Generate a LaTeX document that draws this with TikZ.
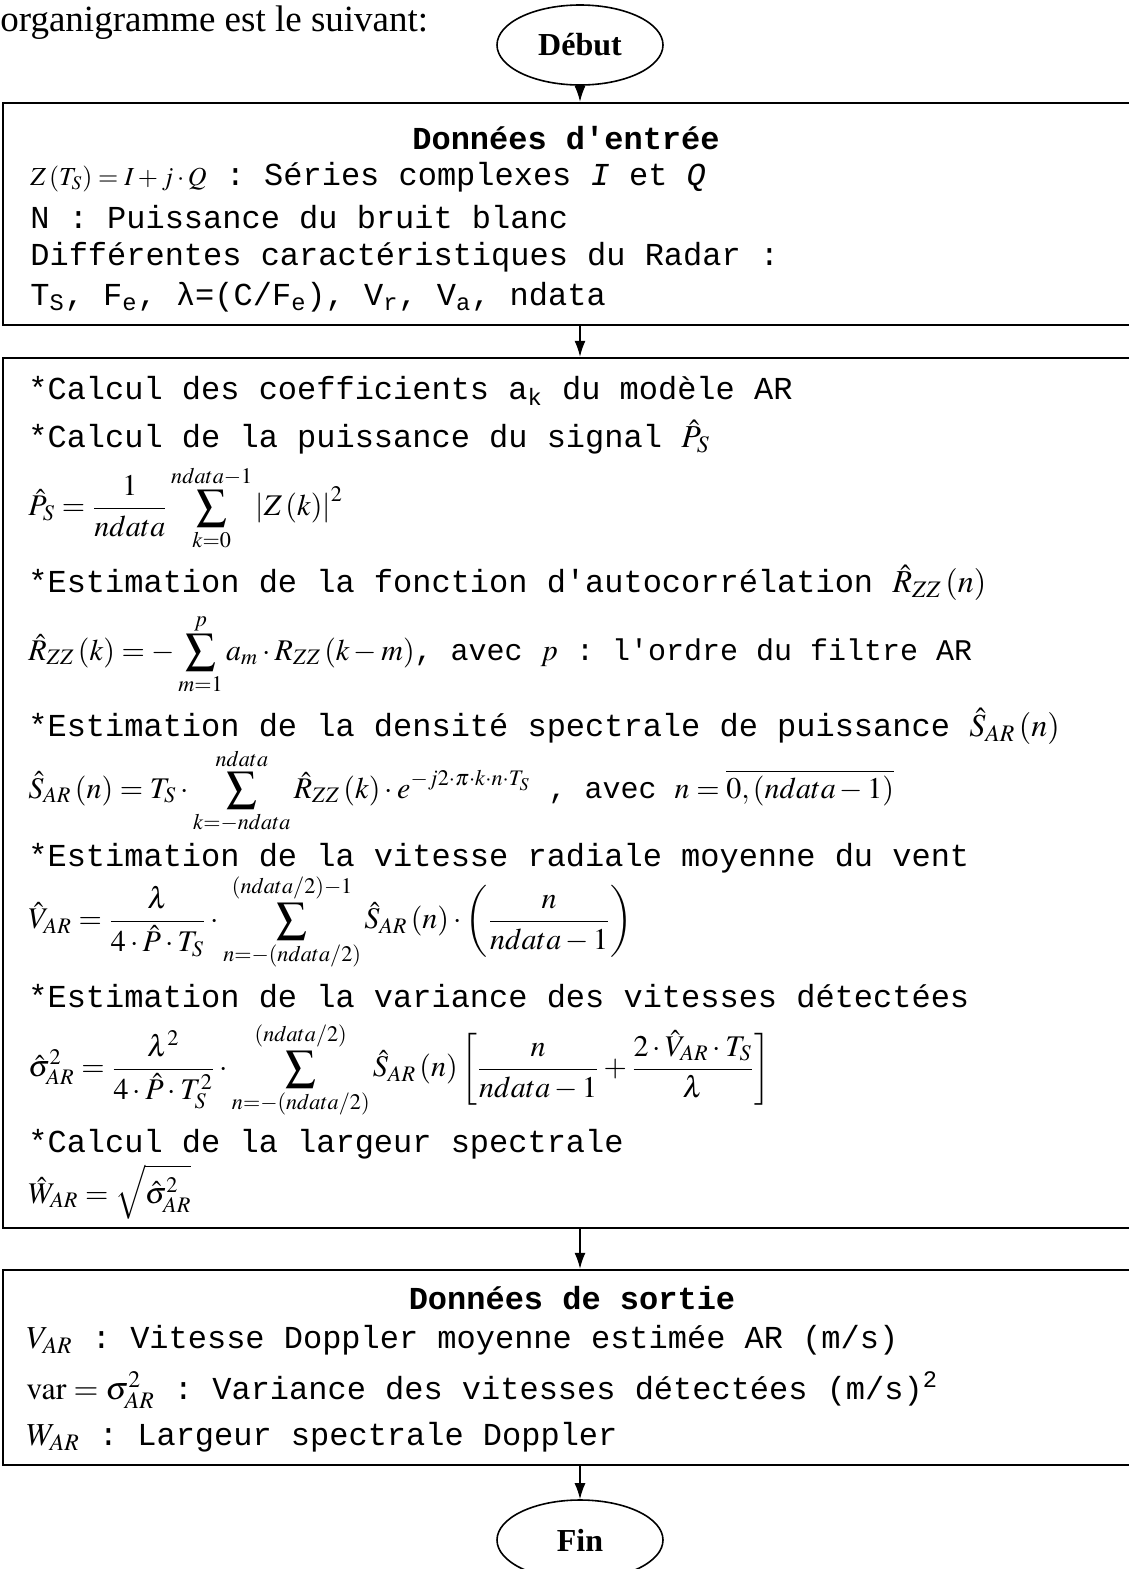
\documentclass[tikz,border=0pt]{standalone}
\usepackage{mathptmx}
\usepackage[no-math]{fontspec}
\setmainfont{Liberation Serif}
\setmonofont{Liberation Mono}
\usetikzlibrary{shapes.geometric,arrows.meta,positioning}
\tikzset{
  box/.style={draw, line width=1.2pt, minimum width=577pt, inner sep=0pt},
  term/.style={draw, ellipse, line width=.8pt, minimum width=83pt, minimum height=40pt,
    font=\bfseries\fontsize{16}{18}\selectfont},
  txt/.style={anchor=west, inner sep=0pt, font=\ttfamily\fontsize{16}{19}\selectfont},
  eq/.style={anchor=west, inner sep=0pt, font=\ttfamily\fontsize{15}{18}\selectfont},
  ttl/.style={inner sep=0pt, font=\ttfamily\bfseries\fontsize{16}{19}\selectfont},
  arr/.style={-{Latex[length=8pt,width=5.5pt]}, line width=.7pt},
}
\begin{document}
\begin{tikzpicture}[x=0.5pt,y=-0.5pt]
  \useasboundingbox (0,0) rectangle (1129,1569);
  \node[anchor=base west, inner sep=0pt, font=\fontsize{18.5}{20}\selectfont] (T) at (0,31) {organigramme est le suivant:};

  \node[term] (D) at (580,45) {Début};
  \node[box, minimum height=111pt] (E) at (580,214) {};
  \node[box, minimum height=435pt] (C) at (580,793) {};
  \node[box, minimum height=97.5pt] (S) at (580,1367.5) {};
  \node[term] (F) at (580,1540) {Fin};

  \draw[arr] (D) -- (E);
  \draw[arr] (E) -- (C);
  \draw[arr] (C) -- (S);
  \draw[arr] (S) -- (F);

  \node[ttl] (E0) at (566,138) {Données d'entrée};
  \node[txt] (E1) at (30,177) {{\fontsize{13}{15}\selectfont $Z\left(T_S\right)=I+j\cdot Q$} : Séries complexes \textit{I} et \textit{Q}};
  \node[txt] (E2) at (30,217) {N : Puissance du bruit blanc};
  \node[txt] (E3) at (30,257) {Différentes caractéristiques du Radar :};
  \node[txt] (E4) at (30,297) {T\textsubscript{S}, F\textsubscript{e}, λ=(C/F\textsubscript{e}), V\textsubscript{r}, V\textsubscript{a}, ndata};

  \node[txt] (C1) at (28,391) {*Calcul des coefficients a\textsubscript{k} du modèle AR};
  \node[txt] (C2) at (28,437) {*Calcul de la puissance du signal $\hat{P}_S$};
  \node[eq] (C3) at (28,508) {$\displaystyle \hat{P}_S=\frac{1}{ndata}\sum_{k=0}^{ndata-1}\left|Z\left(k\right)\right|^2$};
  \node[txt] (C4) at (28,583) {*Estimation de la fonction d'autocorrélation $\hat{R}_{ZZ}\left(n\right)$};
  \node[eq] (C5) at (28,654) {$\displaystyle \hat{R}_{ZZ}\left(k\right)=-\sum_{m=1}^{p}a_m\cdot R_{ZZ}\left(k-m\right)$, avec $p$ : l'ordre du filtre AR};
  \node[txt] (C6) at (28,726) {*Estimation de la densité spectrale de puissance $\hat{S}_{AR}\left(n\right)$};
  \node[eq] (C7) at (28,791) {$\displaystyle \hat{S}_{AR}\left(n\right)=T_S\cdot\sum_{k=-ndata}^{ndata}\hat{R}_{ZZ}\left(k\right)\cdot e^{-j2\cdot\pi\cdot k\cdot n\cdot T_S}$ , avec $\displaystyle n=\overline{0,\left(ndata-1\right)}$};
  \node[txt] (C8) at (28,858) {*Estimation de la vitesse radiale moyenne du vent};
  \node[eq] (C9) at (28,922) {$\displaystyle \hat{V}_{AR}=\frac{\lambda}{4\cdot\hat{P}\cdot T_S}\cdot\sum_{n=-(ndata/2)}^{(ndata/2)-1}\hat{S}_{AR}\left(n\right)\cdot\left(\frac{n}{ndata-1}\right)$};
  \node[txt] (C10) at (28,996) {*Estimation de la variance des vitesses détectées};
  \node[eq] (C11) at (28,1070) {$\displaystyle \hat{\sigma}^2_{AR}=\frac{\lambda^2}{4\cdot\hat{P}\cdot T_S^2}\cdot\sum_{n=-(ndata/2)}^{(ndata/2)}\hat{S}_{AR}\left(n\right)\left[\frac{n}{ndata-1}+\frac{2\cdot\hat{V}_{AR}\cdot T_S}{\lambda}\right]$};
  \node[txt] (C12) at (28,1144) {*Calcul de la largeur spectrale};
  \node[eq] (C13) at (28,1192) {$\displaystyle \hat{W}_{AR}=\sqrt{\hat{\sigma}^2_{AR}}$};

  \node[ttl] (S0) at (572,1298) {Données de sortie};
  \node[txt] (S1) at (26,1340) {$V_{AR}$ : Vitesse Doppler moyenne estimée AR (m/s)};
  \node[txt] (S2) at (26,1390) {$\mathrm{var}=\sigma^2_{AR}$ : Variance des vitesses détectées (m/s)\textsuperscript{2}};
  \node[txt] (S3) at (26,1437) {$W_{AR}$ : Largeur spectrale Doppler};
\end{tikzpicture}
\end{document}
